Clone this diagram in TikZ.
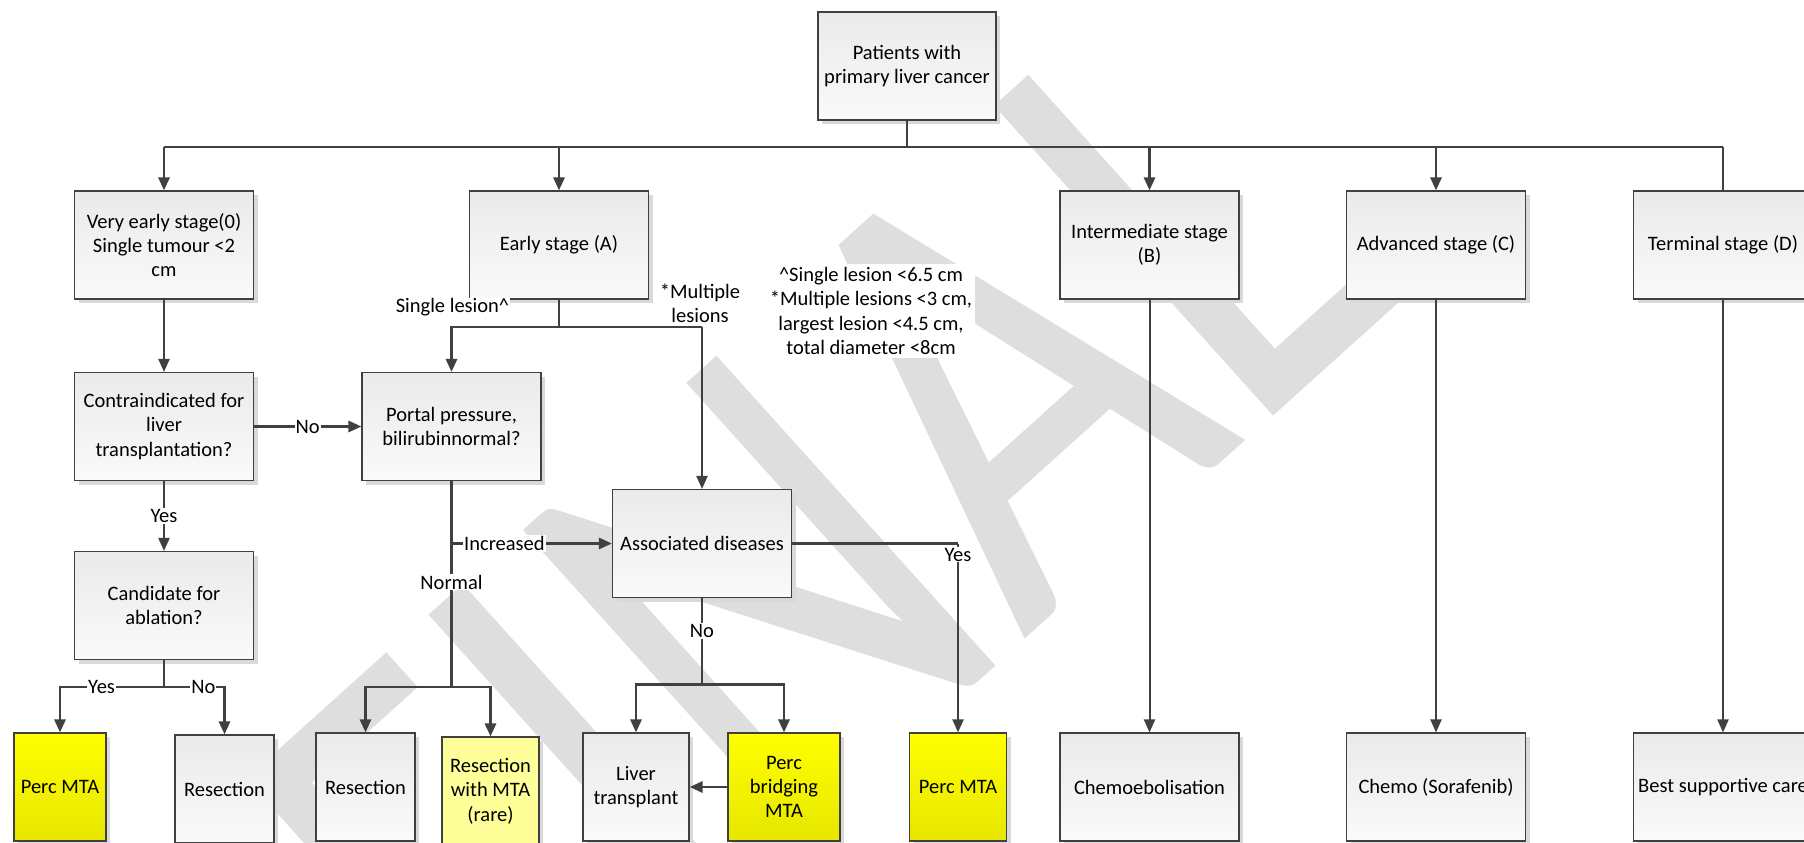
\documentclass[tikz,border=0pt]{standalone}
\usepackage{fontspec}
\setmainfont{Carlito}
\usetikzlibrary{arrows.meta,shadows,calc}
\definecolor{lncol}{RGB}{64,64,64}
\definecolor{boxtop}{RGB}{234,234,234}
\definecolor{boxbot}{RGB}{250,250,250}
\definecolor{ylwtop}{RGB}{255,255,0}
\definecolor{ylwbot}{RGB}{230,230,0}
\definecolor{ylwpale}{RGB}{255,255,153}
\definecolor{wmgrey}{RGB}{222,222,222}

\begin{document}
\begin{tikzpicture}[x=1pt,y=-1pt,
  box/.style={draw=lncol, line width=1.1pt, top color=boxtop, bottom color=boxbot,
    drop shadow={shadow xshift=4pt,shadow yshift=-4pt,fill=black!15,opacity=1},
    minimum width=179pt, minimum height=108pt, inner xsep=0pt, inner ysep=2pt,
    align=center, font=\fontsize{20.5}{24.4}\selectfont},
  ybox/.style={box, top color=ylwtop, bottom color=ylwbot},
  pbox/.style={box, top color=ylwpale, bottom color=ylwpale},
  lbl/.style={fill=white, inner sep=1pt, font=\fontsize{20.5}{24.4}\selectfont},
  thk/.style={draw=lncol, line width=2.8pt},
  thn/.style={draw=lncol, line width=2pt},
  arw/.style={-{Triangle[length=13pt,width=11pt]}}
]
\useasboundingbox (0,0) rectangle (1804,843);
\clip (0,0) rectangle (1804,843);
\fill[white] (0,0) rectangle (1804,843);

% Watermark
\node[text=wmgrey, font=\fontsize{650}{700}\selectfont, rotate=42, xscale=0.8, inner sep=0pt] (wmark) at (815,548) {FINAL};

% Top and stages
\node[box, minimum width=178pt] (root) at (907,66) {Patients with\\primary liver cancer};
\node[box] (very) at (164,245) {Very early stage(0)\\Single tumour <2\\cm};
\node[box] (early) at (559,245) {Early stage (A)};
\node[box] (inter) at (1149.5,245) {Intermediate stage\\(B)};
\node[box] (adv) at (1436,245) {Advanced stage (C)};
\node[box] (term) at (1723,245) {Terminal stage (D)};

% Decisions
\node[box] (contra) at (164,426.5) {Contraindicated for\\liver\\transplantation?};
\node[box] (portal) at (451.5,426.5) {Portal pressure,\\bilirubinnormal?};
\node[box] (cand) at (164,605.5) {Candidate for\\ablation?};
\node[box] (assoc) at (702,543.5) {Associated diseases};

% Treatments
\node[ybox, minimum width=92pt] (percA) at (60,787) {Perc MTA};
\node[box, minimum width=99pt] (resA) at (224.5,789) {Resection};
\node[box, minimum width=99pt] (resB) at (365.5,787) {Resection};
\node[pbox, minimum width=97pt] (resmta) at (490.5,791) {Resection\\with MTA\\(rare)};
\node[box, minimum width=106pt] (liver) at (636,787) {Liver\\transplant};
\node[ybox, minimum width=112pt] (bridge) at (784,787) {Perc\\bridging\\MTA};
\node[ybox, minimum width=97pt] (percB) at (958,787) {Perc MTA};
\node[box] (chemo) at (1149.5,787) {Chemoebolisation};
\node[box] (sora) at (1436,787) {Chemo (Sorafenib)};
\node[box] (bsc) at (1723,787) {Best supportive care};

% Bus from root
\coordinate (bus) at (907,147);
\draw[thk] (root) -- (bus);
\draw[thk] (very.north |- bus) -- (term.north |- bus);
\foreach \st in {very,early,inter,adv}
  \draw[thk,arw] (\st.north |- bus) -- (\st.north);
\draw[thk] (term.north |- bus) -- (term.north);

% Very early stage
\draw[thn,arw] (very) -- (contra);
\draw[thk,arw] (contra) -- node[lbl]{No} (portal);
\draw[thn,arw] (contra) -- node[lbl]{Yes} (cand);
\coordinate (csplit) at (164,687);
\draw[thk] (cand) -- (csplit);
\draw[thk,arw] (csplit) -- node[lbl,pos=0.6]{Yes} (csplit -| percA) -- (percA);
\draw[thk,arw] (csplit) -- node[lbl,pos=0.65]{No} (csplit -| resA) -- (resA);

% Early stage
\coordinate (esplit) at (559,327);
\draw[thk] (early) -- (esplit);
\draw[thk,arw] (esplit) -| (portal);
\draw[thk] (esplit) -- (esplit -| assoc);
\draw[thn,arw] (esplit -| assoc) -- (assoc);
\node[lbl] (single) at (452.5,307.5) {Single lesion\textasciicircum};
\node[lbl, align=center, fill=none] (multi) at (700,303) {*Multiple\\lesions};
\node[lbl, align=center, inner sep=3pt] (note) at (871,311)
  {\textasciicircum Single lesion <6.5 cm\\*Multiple lesions <3 cm,\\largest lesion <4.5 cm,\\total diameter <8cm};

% Portal pressure
\coordinate (nsplit) at (451.5,687);
\draw[thk] (portal) -- node[lbl,pos=0.49]{Normal} (nsplit);
\draw[thk,arw] (portal.south |- assoc) -- node[lbl,pos=0.33]{Increased} (assoc);
\draw[thk,arw] (nsplit) -| (resB);
\draw[thk,arw] (nsplit) -| (resmta);

% Associated diseases
\coordinate (asplit) at (702,684.5);
\draw[thk] (assoc) -- node[lbl,pos=0.38]{No} (asplit);
\draw[thk,arw] (asplit) -| (liver);
\draw[thk,arw] (asplit) -| (bridge);
\draw[thk,arw] (bridge) -- (liver);
\draw[thk] (assoc) -- (assoc -| percB);
\draw[thn,arw] (assoc -| percB) -- node[lbl,pos=0.06]{Yes} (percB);

% Later stages
\foreach \st/\tr in {inter/chemo,adv/sora,term/bsc}
  \draw[thn,arw] (\st) -- (\tr);
\end{tikzpicture}
\end{document}
